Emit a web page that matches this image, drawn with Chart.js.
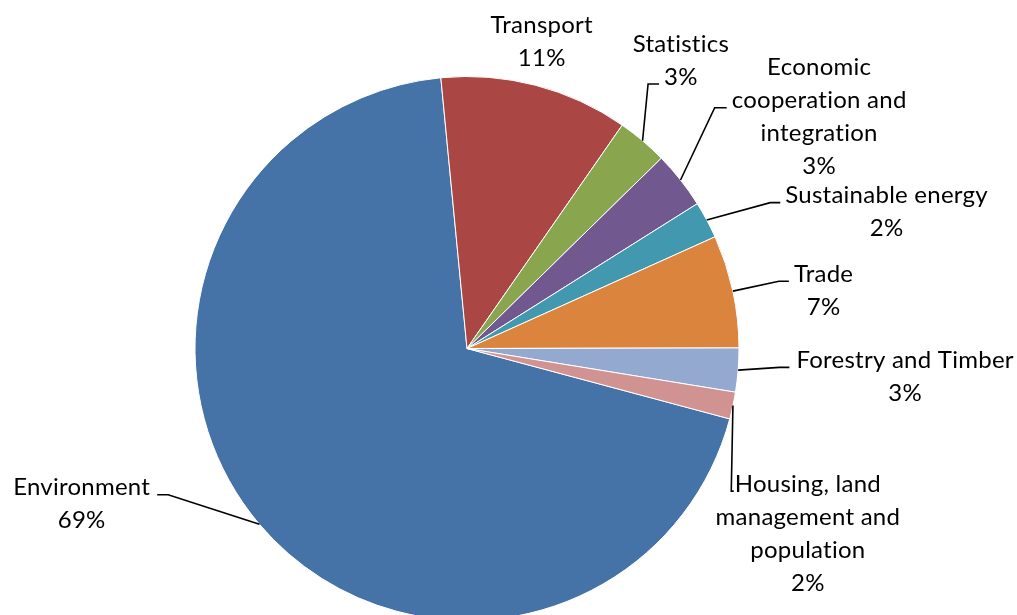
<!DOCTYPE html>
<html>
<head>
<meta charset="utf-8">
<script src="https://cdn.jsdelivr.net/npm/chart.js@4.4.1/dist/chart.umd.min.js"></script>
<style>
  html, body { margin: 0; padding: 0; background: #ffffff; overflow: hidden; }
  #wrap { width: 1017px; height: 615px; overflow: hidden; position: relative; }
  canvas { display: block; }
</style>
</head>
<body>
<div id="wrap"><canvas id="pie" width="1017" height="660"></canvas></div>
<script>
// Categories (multi-line names are given as arrays of lines)
const categories = [
  'Environment',
  'Transport',
  'Statistics',
  ['Economic', 'cooperation and', 'integration'],
  'Sustainable energy',
  'Trade',
  'Forestry and Timber',
  ['Housing, land', 'management and', 'population']
];

// Share of the total, per category
const shares = [69.3, 11.2, 3.0, 3.4, 2.2, 6.7, 2.6, 1.6];

// Slice fill colours
const sliceColors = ['#4572A7', '#AA4643', '#89A54E', '#71588F', '#4198AF', '#DB843D', '#93A9CF', '#D19392'];

// Label placement: centre of each label in polar form around the pie
// (degrees clockwise from 12 o'clock, multiple of the radius), the text line
// the leader meets, the side it meets it on, and the leader's gap and foot.
const labelPlacement = [
  { angle: 248.0, dist: 1.528, attach: 0, side: 'right', gap: 7, foot: 11 },
  { angle: 13.7,  dist: 1.160, attach: -1 },
  { angle: 36.6,  dist: 1.319, attach: 1, side: 'left', gap: 5, foot: 11 },
  { angle: 56.7,  dist: 1.549, attach: 1, side: 'left', gap: 5, foot: 12 },
  { angle: 72.0,  dist: 1.622, attach: 0, side: 'left', gap: 5, foot: 10 },
  { angle: 80.8,  dist: 1.328, attach: 0, side: 'left', gap: 5, foot: 10 },
  { angle: 93.7,  dist: 1.614, attach: 0, side: 'left', gap: 7, foot: 10 },
  { angle: 118.5, dist: 1.426, attach: 0, side: 'left', gap: 1, foot: 2.5 }
];

const LABEL_FONT = '24px Lato, "Open Sans", sans-serif';
const LINE_H = 33;
const LEADER_DROP = 7;

// Category name + rounded percentage, joined to the slice by a leader line
const leaderLabels = {
  id: 'leaderLabels',
  afterDatasetsDraw(chart) {
    const ctx = chart.ctx;
    const meta = chart.getDatasetMeta(0);
    const values = chart.data.datasets[0].data;
    const total = values.reduce((s, v) => s + v, 0);
    ctx.save();
    ctx.font = LABEL_FONT;
    if ('letterSpacing' in ctx) ctx.letterSpacing = '0.25px';
    ctx.fillStyle = '#000000';
    ctx.strokeStyle = '#000000';
    ctx.lineWidth = 1.6;
    ctx.textAlign = 'center';
    ctx.textBaseline = 'middle';
    meta.data.forEach((arc, i) => {
      const p = arc.getProps(['x', 'y', 'startAngle', 'endAngle', 'outerRadius'], true);
      const mid = (p.startAngle + p.endAngle) / 2;
      const ax = p.x + p.outerRadius * Math.cos(mid);
      const ay = p.y + p.outerRadius * Math.sin(mid);
      const cat = chart.data.labels[i];
      const lines = Array.isArray(cat) ? cat.slice() : [cat];
      lines.push(Math.round(values[i] / total * 100) + '%');
      const pl = labelPlacement[i];
      const a = (pl.angle - 90) * Math.PI / 180;
      const cx = p.x + p.outerRadius * pl.dist * Math.cos(a);
      const cy = p.y + p.outerRadius * pl.dist * Math.sin(a);
      const top = cy - (lines.length - 1) * LINE_H / 2;
      lines.forEach((t, k) => ctx.fillText(t, cx, top + k * LINE_H));
      if (pl.attach >= 0) {
        const w = ctx.measureText(lines[pl.attach]).width;
        const ly = top + pl.attach * LINE_H + LEADER_DROP;
        let ex, kx;
        if (pl.side === 'left') { ex = cx - w / 2 - pl.gap; kx = ex - pl.foot; }
        else { ex = cx + w / 2 + pl.gap; kx = ex + pl.foot; }
        ctx.beginPath();
        ctx.moveTo(ax, ay);
        ctx.lineTo(kx, ly);
        ctx.lineTo(ex, ly);
        ctx.stroke();
      }
    });
    ctx.restore();
  }
};

new Chart(document.getElementById('pie'), {
  type: 'pie',
  data: {
    labels: categories,
    datasets: [{
      data: shares,
      backgroundColor: sliceColors,
      borderColor: '#ffffff',
      borderWidth: 1
    }]
  },
  options: {
    responsive: false,
    animation: false,
    devicePixelRatio: 1,
    rotation: 105,
    layout: { padding: { top: 76, bottom: 39, left: 0, right: 83 } },
    plugins: {
      legend: { display: false },
      tooltip: { enabled: false }
    }
  },
  plugins: [leaderLabels]
});
</script>
</body>
</html>
